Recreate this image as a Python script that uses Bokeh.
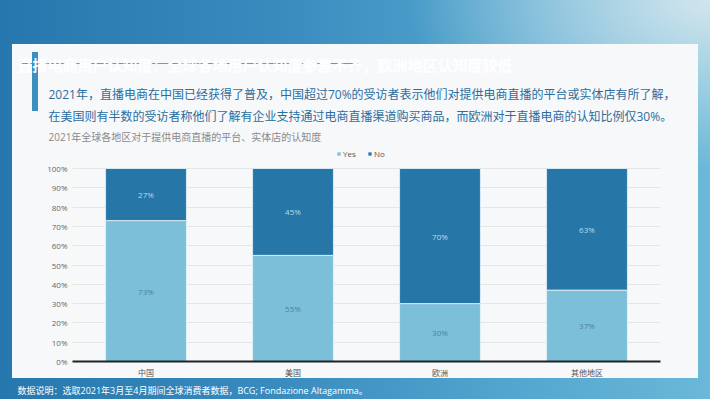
from bokeh.plotting import figure
from bokeh.models import (Range1d, FactorRange, FixedTicker, PrintfTickFormatter,
                          Legend, LegendItem, ColumnDataSource, LabelSet, Title)
from bokeh.core.properties import value
from bokeh.embed import file_html
from bokeh.resources import INLINE

# ---- data ----
regions = ["中国", "美国", "欧洲", "其他地区"]
yes_pct = [73, 55, 30, 37]
no_pct = [27, 45, 70, 63]
y_ticks = [0, 10, 20, 30, 40, 50, 60, 70, 80, 90, 100]

title_text = "直播电商用户认知度：全球各地用户认知度参差不齐，欧洲地区认知度较低"
para1 = "2021年，直播电商在中国已经获得了普及，中国超过70%的受访者表示他们对提供电商直播的平台或实体店有所了解，"
para2 = "在美国则有半数的受访者称他们了解有企业支持通过电商直播渠道购买商品，而欧洲对于直播电商的认知比例仅30%。"
chart_title = "2021年全球各地区对于提供电商直播的平台、实体店的认知度"
footer = "数据说明：选取2021年3月至4月期间全球消费者数据，BCG; Fondazione Altagamma。"

FONT = "'Open Sans', 'Noto Sans CJK SC', sans-serif"
CJK = "'Noto Sans CJK SC', sans-serif"

W, H = 710, 399
FL, FR = 72, 660        # frame left / right (canvas px)
FT, FB = 146, 361       # frame top / bottom (canvas px)
Y100 = 168              # canvas y of the 100% line
YMAX = 100 * (FB - FT) / (FB - Y100)   # frame extends above 100% to hold the legend

YES_C = "#7cbfd8"
NO_C = "#2676a8"

p = figure(width=W, height=H, output_backend="svg", toolbar_location=None,
           x_range=FactorRange(*regions, range_padding=0),
           y_range=Range1d(0, YMAX), min_border=0,
           min_border_left=FL, min_border_right=W - FR,
           min_border_top=FT, min_border_bottom=H - FB)

p.border_fill_color = None
p.background_fill_color = "#f7f8fa"
p.outline_line_color = None
p.styles = {
    "background": (
        "linear-gradient(#3d8fc0,#3d8fc0) 32px 52px / 6px 59px no-repeat,"
        "linear-gradient(#5aa0c9,#5aa0c9) 20px 63px / 338px 1px no-repeat,"
        "linear-gradient(#f7f8fa,#f7f8fa) 12px 44px / 686px 334px no-repeat,"
        "radial-gradient(ellipse at 100% 0%, rgba(215,232,238,0.95) 0%, rgba(215,232,238,0) 30%),"
        "linear-gradient(90deg, #2677ad 0%, #3a8cbf 40%, #55a8d0 75%, #6bb8d8 100%)"
    )
}

src = ColumnDataSource(dict(region=regions, Yes=yes_pct, No=no_pct,
                            ymid=[v / 2 for v in yes_pct],
                            nmid=[y + n / 2 for y, n in zip(yes_pct, no_pct)],
                            ylab=[f"{v}%" for v in yes_pct],
                            nlab=[f"{v}%" for v in no_pct]))

rs = p.vbar_stack(["Yes", "No"], x="region", width=0.55, source=src,
                  color=[YES_C, NO_C], line_color="#e9f4f9", line_width=0.8)

p.add_layout(LabelSet(x="region", y="ymid", text="ylab", source=src,
                      text_align="center", text_baseline="middle",
                      text_font=value(FONT), text_font_size="8px",
                      text_color="#4f7f99"))
p.add_layout(LabelSet(x="region", y="nmid", text="nlab", source=src,
                      text_align="center", text_baseline="middle",
                      text_font=value(FONT), text_font_size="8px",
                      text_color="#b3def0"))

# axes
p.yaxis.ticker = FixedTicker(ticks=y_ticks)
p.yaxis.formatter = PrintfTickFormatter(format="%d%%")
p.yaxis.axis_line_color = None
p.yaxis.major_tick_line_color = None
p.yaxis.minor_tick_line_color = None
p.yaxis.major_tick_out = 0
p.yaxis.minor_tick_out = 0
p.yaxis.major_label_standoff = 5
p.yaxis.major_label_text_font = FONT
p.yaxis.major_label_text_font_size = "8px"
p.yaxis.major_label_text_color = "#666666"

p.xaxis.axis_line_color = "#222222"
p.xaxis.axis_line_width = 2
p.xaxis.major_tick_line_color = None
p.xaxis.minor_tick_line_color = None
p.xaxis.major_tick_out = 0
p.xaxis.minor_tick_out = 0
p.xaxis.major_label_standoff = 5
p.xaxis.major_label_text_font = CJK
p.xaxis.major_label_text_font_size = "8px"
p.xaxis.major_label_text_color = "#555555"

p.xgrid.grid_line_color = None
p.ygrid.grid_line_color = "#e6e6e6"
p.ygrid.grid_line_width = 1

# legend inside the (extended) frame, above the 100% line
legend = Legend(items=[LegendItem(label="Yes", renderers=[rs[0]]),
                       LegendItem(label="No", renderers=[rs[1]])],
                orientation="horizontal", location=(336 - FL, FB - 159),
                background_fill_alpha=0, border_line_color=None,
                label_text_font=FONT, label_text_font_size="8px",
                label_text_color="#555555", glyph_width=5, glyph_height=5,
                label_standoff=2, spacing=4, padding=0, margin=0,
                label_height=8)
p.add_layout(legend, "center")


def spacer(size):
    # invisible title whose text height sets the gap between stacked texts
    return Title(text=" ", text_font=FONT, text_font_size=size, text_alpha=0,
                 vertical_align="middle")


def ttl(text, size, color, offset, standoff, font=FONT, bold=False):
    return Title(text=text, text_font=font, text_font_size=size, text_color=color,
                 align="left", offset=offset, standoff=standoff,
                 vertical_align="middle",
                 text_font_style="bold" if bold else "normal")


# above panel: stacked from the frame outwards
p.add_layout(ttl(chart_title, "10px", "#8a8a8a", 48 - FL, 3), "above")
p.add_layout(spacer("9px"), "above")
p.add_layout(ttl(para2, "12px", "#2a6d9e", 48 - FL, 3.3), "above")
p.add_layout(ttl(para1, "12px", "#2a6d9e", 48 - FL, 4), "above")
p.add_layout(spacer("22px"), "above")
p.add_layout(ttl(title_text, "15px", "#ffffff", 17 - FL, 14, font=CJK, bold=True), "above")

# below: x axis, then footer
p.add_layout(ttl(footer, "9px", "#ffffff", 17 - FL, 4), "below")

open("out.html", "w").write(file_html(p, INLINE))
